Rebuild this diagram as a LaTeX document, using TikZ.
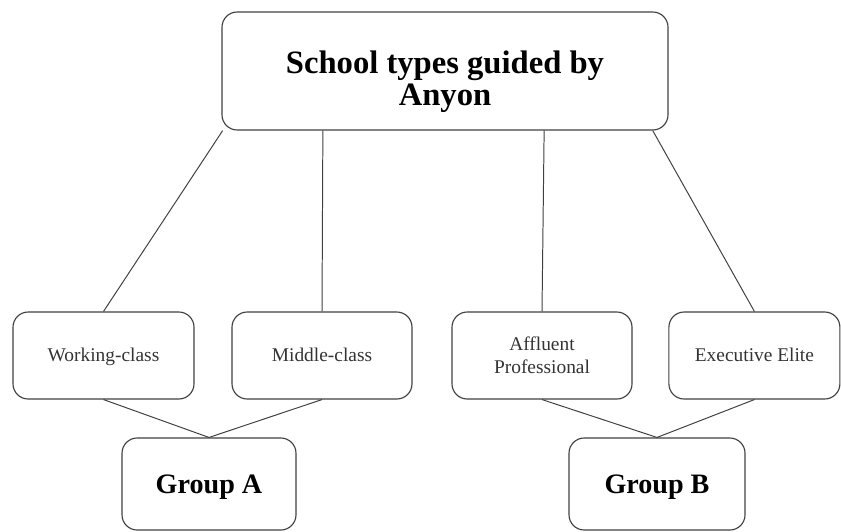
\documentclass[tikz,border=0pt]{standalone}
\usepackage{fontspec}
\setmainfont{Liberation Serif}
\tikzset{
  box/.style={draw=black!75, line width=0.8pt, rounded corners=0.38cm, align=center, inner sep=2pt},
  typebox/.style={box, minimum width=4.5cm, minimum height=2.175cm, text=black!80, font=\fontsize{13.8}{16.3}\selectfont},
  oneline/.style={text height=1.0em, text depth=0.2em},
  groupbox/.style={box, minimum width=4.35cm, minimum height=2.3cm, text height=1.5em, text depth=0.2em, font=\fontsize{20}{24}\selectfont\bfseries},
  link/.style={draw=black!75, line width=0.7pt}
}
\begin{document}
\begin{tikzpicture}
	\useasboundingbox (0,0) rectangle (21.025,-13.275);
	\node[box, minimum width=11.15cm, minimum height=2.95cm] (Top) at (11.125,-1.775) {};
	\node[align=center, font=\fontsize{23.2}{22.7}\selectfont\bfseries] (TopText) at ([yshift=-0.27cm]Top.center) {School types guided by\\Anyon};

	\node[typebox, oneline, minimum width=4.525cm] (Working) at (2.5875,-8.8875) {Working-class};
	\node[typebox, oneline] (Middle) at (8.05,-8.8875) {Middle-class};
	\node[typebox] (Affluent) at (13.55,-8.8875) {Affluent\\Professional};
	\node[typebox, oneline, minimum width=4.275cm] (Elite) at (18.86,-8.8875) {Executive Elite};

	\node[groupbox] (GroupA) at (5.225,-12.1) {Group A};
	\node[groupbox, minimum width=4.4cm] (GroupB) at (16.425,-12.1) {Group B};

	\draw[link] (Top.195) -- (Working.north);
	\draw[link] (Top.206.4) -- (Middle.north);
	\draw[link] (Top.329) -- (Affluent.north);
	\draw[link] (Top.344.8) -- (Elite.north);

	\draw[link] (Working.south) -- (GroupA.north) -- (Middle.south);
	\draw[link] (Affluent.south) -- (GroupB.north) -- (Elite.south);
\end{tikzpicture}
\end{document}
